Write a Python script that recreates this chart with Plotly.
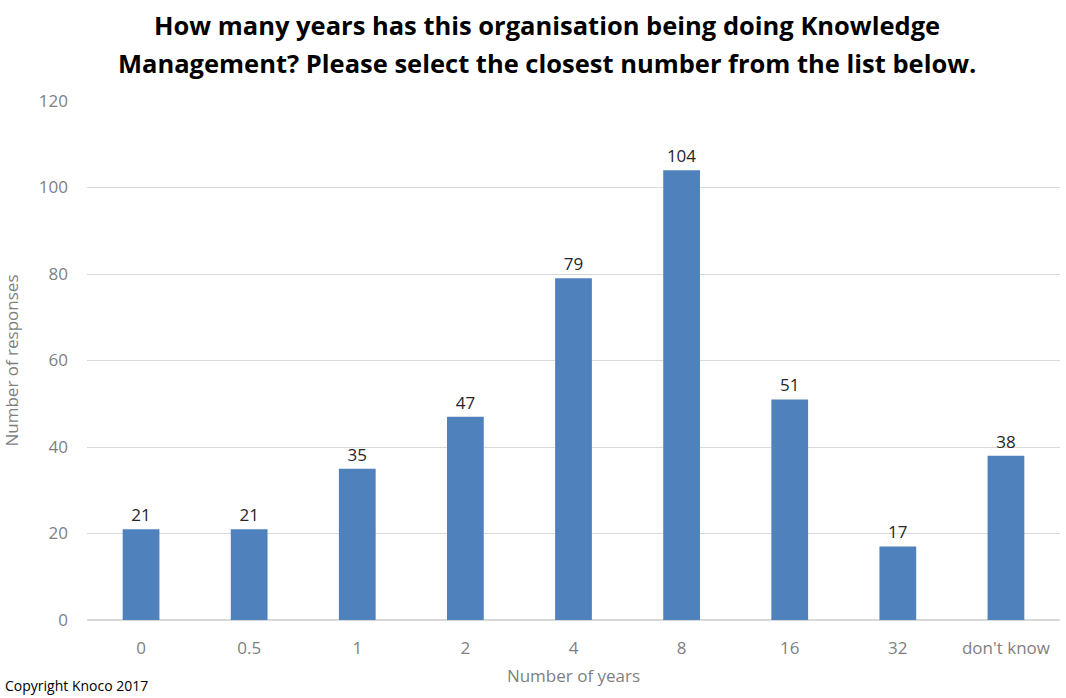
import plotly.graph_objects as go

categories = ["0", "0.5", "1", "2", "4", "8", "16", "32", "don't know"]
responses = [21, 21, 35, 47, 79, 104, 51, 17, 38]
y_ticks = [0, 20, 40, 60, 80, 100, 120]

title_line1 = "How many years has this organisation being doing Knowledge"
title_line2 = "Management? Please select the closest number from the list below."

font_family = "'Open Sans', sans-serif"
W, H = 1066, 698
ML, MR, MT, MB = 87, 6, 101, 78
PW, PH = W - ML - MR, H - MT - MB


def px_x(p):
    return (p - ML) / PW


def px_y(p):
    return (H - MB - p) / PH


fig = go.Figure()
fig.add_trace(go.Bar(
    x=categories,
    y=responses,
    marker=dict(color="#4F81BD", line=dict(width=0)),
    text=[str(v) for v in responses],
    textposition="outside",
    textfont=dict(size=17, color="#262626", family=font_family),
    cliponaxis=False,
    width=0.34,
))

fig.update_layout(
    width=W,
    height=H,
    margin=dict(l=ML, r=MR, t=MT, b=MB),
    paper_bgcolor="white",
    plot_bgcolor="white",
    font=dict(family=font_family, color="#7F7F7F"),
    showlegend=False,
    xaxis=dict(
        title=dict(text="Number of years", font=dict(size=17, color="#7F7F7F"), standoff=12),
        tickfont=dict(size=17, color="#7F7F7F"),
        showline=False,
        showgrid=False,
        ticks="",
        ticklabelstandoff=16,
    ),
    yaxis=dict(
        title=dict(text="Number of responses", font=dict(size=17, color="#7F7F7F"), standoff=16),
        range=[0, 120],
        tickvals=y_ticks,
        tickfont=dict(size=17, color="#7F7F7F"),
        showgrid=True,
        gridcolor="#D9D9D9",
        gridwidth=1,
        zeroline=True,
        zerolinecolor="#D9D9D9",
        ticks="",
        ticklabelstandoff=18,
    ),
)

for txt, yp in [(title_line1, 25), (title_line2, 63)]:
    fig.add_annotation(
        text=txt,
        xref="paper", yref="paper",
        x=px_x(547), y=px_y(yp),
        xanchor="center", yanchor="middle",
        showarrow=False,
        font=dict(size=25.5, color="#000000", family=font_family, weight="bold"),
    )

fig.add_annotation(
    text="Copyright Knoco 2017",
    xref="paper", yref="paper",
    x=px_x(3), y=px_y(697),
    xanchor="left", yanchor="bottom",
    showarrow=False,
    font=dict(size=14, color="#000000", family=font_family),
)

fig.write_html("out.html")
